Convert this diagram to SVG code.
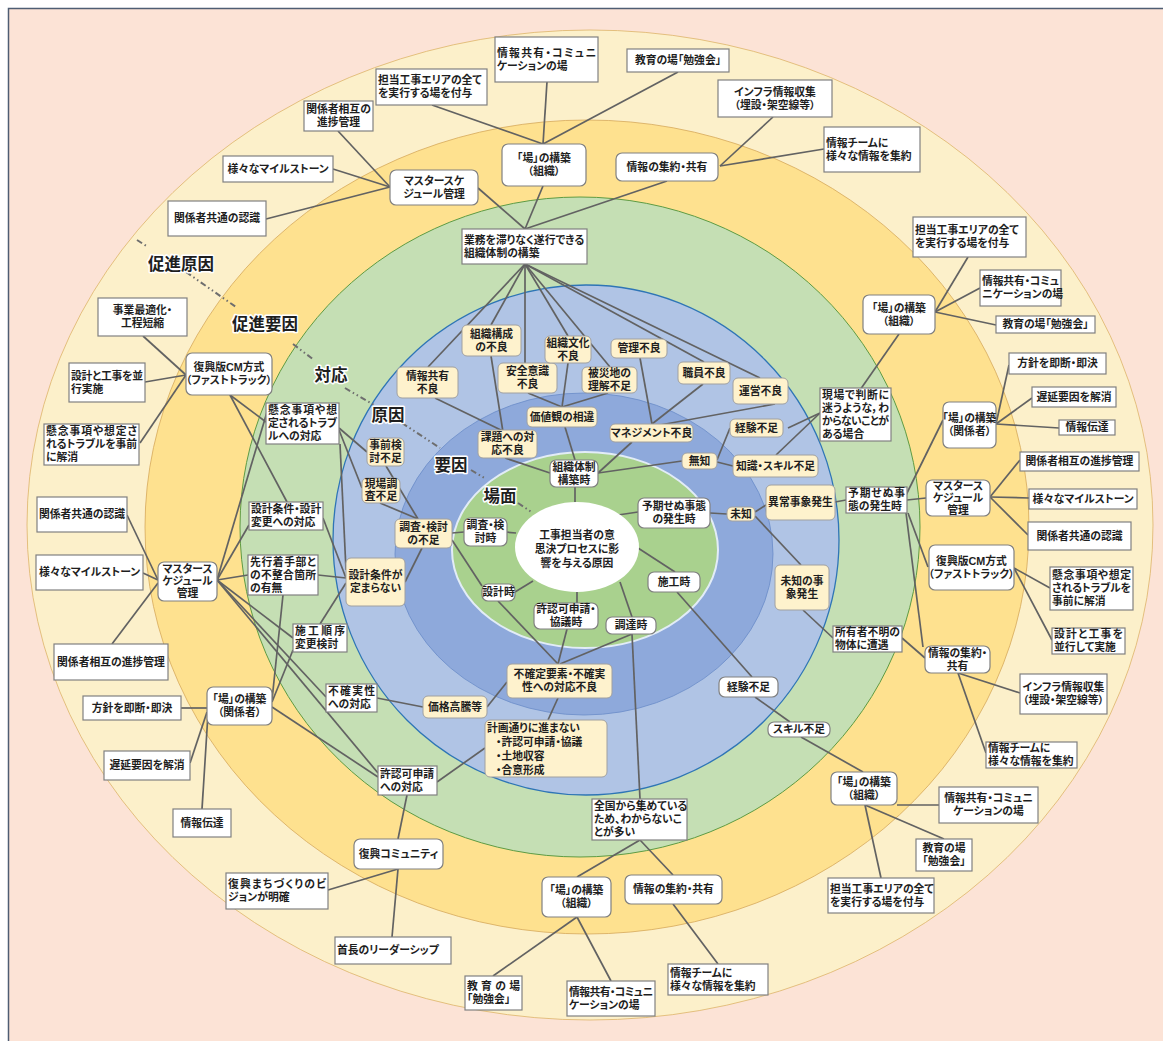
<svg xmlns="http://www.w3.org/2000/svg" width="1163" height="1041" viewBox="0 0 1163 1041">
<style>
text{font-family:"Liberation Sans","Noto Sans CJK JP",sans-serif;font-size:10.8px;font-weight:bold;fill:#1e1e1e;font-feature-settings:"palt" 1}
.m{text-anchor:middle}
.s{fill:#fff;stroke:#808080;stroke-width:1.2}
.r{fill:#fff;stroke:#808080;stroke-width:1.2;rx:6px}
.c{fill:#fef2cd;stroke:#a0a0a0;stroke-width:1;rx:5px}
#connectors line{stroke:#626262;stroke-width:1.7}
#guide line{stroke:#6e6e6e;stroke-width:2;stroke-dasharray:6 3 1.5 3 1.5 3}
.lab{font-size:16.5px;font-weight:bold;stroke:#fff;stroke-width:3px;paint-order:stroke;stroke-linejoin:round}
</style>
<rect width="1163" height="1041" fill="#fff"/>
<rect x="8.5" y="8.5" width="1160" height="1040" fill="#fce3d6" stroke="#4e5d73" stroke-width="1.5"/>
<g id="rings">
<ellipse cx="590" cy="525" rx="563" ry="495" fill="#fcf0ca" stroke="#ddb468" stroke-width="0.8"/>
<ellipse cx="587" cy="527" rx="442" ry="407" fill="#fee18f" stroke="#d6a85b" stroke-width="0.8"/>
<ellipse cx="580" cy="527" rx="340" ry="330" fill="#c5dfb4" stroke="#5e9b43" stroke-width="1"/>
<ellipse cx="586" cy="540" rx="253" ry="255" fill="#b0c4e5" stroke="#2e75b6" stroke-width="1.3"/>
<ellipse cx="584" cy="554" rx="189" ry="161" fill="#8ea9db" stroke="#6a8cc8" stroke-width="0.8"/>
<ellipse cx="585" cy="550" rx="133" ry="98" fill="#a9d18e" stroke="#e2ecf7" stroke-width="2"/>
</g>
<g id="guide">
<line x1="137" y1="240" x2="148" y2="247"/>
<line x1="186" y1="272" x2="236" y2="307"/>
<line x1="293" y1="344" x2="314" y2="360"/>
<line x1="345" y1="388" x2="374" y2="405"/>
<line x1="402" y1="423" x2="440" y2="448"/>
<line x1="471" y1="470" x2="486" y2="479"/>
<line x1="518" y1="503" x2="533" y2="513"/>
</g>
<g id="connectors">
<line x1="432" y1="105" x2="543" y2="144"/>
<line x1="547" y1="82" x2="543" y2="144"/>
<line x1="678" y1="72" x2="543" y2="144"/>
<line x1="543" y1="186" x2="525" y2="229"/>
<line x1="478" y1="188" x2="525" y2="229"/>
<line x1="667" y1="181" x2="525" y2="229"/>
<line x1="773" y1="117" x2="720" y2="166"/>
<line x1="824" y1="149" x2="720" y2="166"/>
<line x1="338" y1="131" x2="390" y2="187"/>
<line x1="333" y1="169" x2="390" y2="187"/>
<line x1="266" y1="219" x2="390" y2="187"/>
<line x1="525" y1="264" x2="428" y2="367"/>
<line x1="525" y1="264" x2="491" y2="325"/>
<line x1="525" y1="264" x2="525" y2="363"/>
<line x1="525" y1="264" x2="568" y2="336"/>
<line x1="525" y1="264" x2="610" y2="367"/>
<line x1="525" y1="264" x2="704" y2="362"/>
<line x1="525" y1="264" x2="760" y2="378"/>
<line x1="143" y1="336" x2="186" y2="375"/>
<line x1="145" y1="382" x2="186" y2="375"/>
<line x1="140" y1="443" x2="186" y2="375"/>
<line x1="230" y1="395" x2="266" y2="422"/>
<line x1="230" y1="395" x2="287" y2="502"/>
<line x1="127" y1="515" x2="158" y2="580"/>
<line x1="143" y1="573" x2="158" y2="580"/>
<line x1="112" y1="644" x2="158" y2="583"/>
<line x1="217" y1="580" x2="267" y2="412"/>
<line x1="217" y1="580" x2="249" y2="525"/>
<line x1="217" y1="580" x2="248" y2="575"/>
<line x1="217" y1="580" x2="293" y2="638"/>
<line x1="217" y1="580" x2="326" y2="697"/>
<line x1="217" y1="580" x2="378" y2="773"/>
<line x1="272" y1="707" x2="378" y2="777"/>
<line x1="283" y1="595" x2="272" y2="700"/>
<line x1="293" y1="650" x2="272" y2="702"/>
<line x1="320" y1="624" x2="346" y2="583"/>
<line x1="318" y1="575" x2="346" y2="578"/>
<line x1="323" y1="518" x2="346" y2="578"/>
<line x1="340" y1="444" x2="346" y2="570"/>
<line x1="339" y1="428" x2="367" y2="452"/>
<line x1="339" y1="430" x2="362" y2="488"/>
<line x1="386" y1="466" x2="418" y2="519"/>
<line x1="380" y1="503" x2="418" y2="519"/>
<line x1="422" y1="548" x2="405" y2="582"/>
<line x1="452" y1="533" x2="464" y2="532"/>
<line x1="452" y1="540" x2="482" y2="586"/>
<line x1="207" y1="708" x2="181" y2="708"/>
<line x1="207" y1="712" x2="190" y2="763"/>
<line x1="208" y1="714" x2="202" y2="809"/>
<line x1="437" y1="782" x2="485" y2="748"/>
<line x1="407" y1="795" x2="398" y2="839"/>
<line x1="328" y1="890" x2="398" y2="869"/>
<line x1="398" y1="869" x2="392" y2="937"/>
<line x1="377" y1="698" x2="423" y2="707"/>
<line x1="435" y1="398" x2="505" y2="432"/>
<line x1="491" y1="356" x2="503" y2="432"/>
<line x1="505" y1="458" x2="550" y2="473"/>
<line x1="528" y1="393" x2="562" y2="407"/>
<line x1="568" y1="363" x2="562" y2="407"/>
<line x1="608" y1="393" x2="562" y2="407"/>
<line x1="565" y1="427" x2="575" y2="460"/>
<line x1="640" y1="358" x2="652" y2="424"/>
<line x1="703" y1="384" x2="652" y2="424"/>
<line x1="775" y1="404" x2="660" y2="425"/>
<line x1="632" y1="442" x2="598" y2="473"/>
<line x1="682" y1="461" x2="598" y2="473"/>
<line x1="730" y1="428" x2="717" y2="460"/>
<line x1="733" y1="466" x2="717" y2="462"/>
<line x1="575" y1="487" x2="575" y2="502"/>
<line x1="505" y1="532" x2="516" y2="533"/>
<line x1="515" y1="592" x2="533" y2="581"/>
<line x1="577" y1="603" x2="577" y2="590"/>
<line x1="620" y1="582" x2="632" y2="617"/>
<line x1="632" y1="634" x2="640" y2="799"/>
<line x1="638" y1="548" x2="675" y2="572"/>
<line x1="618" y1="515" x2="638" y2="512"/>
<line x1="710" y1="513" x2="727" y2="514"/>
<line x1="755" y1="512" x2="766" y2="505"/>
<line x1="755" y1="516" x2="801" y2="565"/>
<line x1="498" y1="601" x2="558" y2="664"/>
<line x1="567" y1="629" x2="558" y2="664"/>
<line x1="632" y1="634" x2="560" y2="664"/>
<line x1="507" y1="682" x2="487" y2="707"/>
<line x1="558" y1="698" x2="548" y2="720"/>
<line x1="677" y1="592" x2="752" y2="677"/>
<line x1="755" y1="697" x2="790" y2="722"/>
<line x1="801" y1="737" x2="863" y2="772"/>
<line x1="968" y1="257" x2="935" y2="312"/>
<line x1="980" y1="288" x2="935" y2="312"/>
<line x1="996" y1="325" x2="935" y2="312"/>
<line x1="899" y1="334" x2="860" y2="390"/>
<line x1="788" y1="428" x2="820" y2="413"/>
<line x1="776" y1="455" x2="820" y2="413"/>
<line x1="996" y1="424" x2="1009" y2="365"/>
<line x1="996" y1="424" x2="1032" y2="398"/>
<line x1="996" y1="424" x2="1059" y2="428"/>
<line x1="906" y1="495" x2="943" y2="420"/>
<line x1="835" y1="502" x2="846" y2="500"/>
<line x1="907" y1="500" x2="926" y2="498"/>
<line x1="990" y1="497" x2="1020" y2="460"/>
<line x1="990" y1="497" x2="1029" y2="498"/>
<line x1="990" y1="497" x2="1028" y2="535"/>
<line x1="908" y1="513" x2="928" y2="567"/>
<line x1="906" y1="513" x2="923" y2="647"/>
<line x1="1014" y1="568" x2="1050" y2="588"/>
<line x1="1014" y1="568" x2="1052" y2="640"/>
<line x1="803" y1="610" x2="833" y2="638"/>
<line x1="902" y1="638" x2="925" y2="658"/>
<line x1="958" y1="673" x2="1020" y2="693"/>
<line x1="958" y1="673" x2="986" y2="753"/>
<line x1="865" y1="805" x2="944" y2="839"/>
<line x1="865" y1="805" x2="881" y2="878"/>
<line x1="897" y1="805" x2="939" y2="805"/>
<line x1="640" y1="840" x2="577" y2="877"/>
<line x1="640" y1="840" x2="673" y2="875"/>
<line x1="577" y1="917" x2="493" y2="976"/>
<line x1="577" y1="917" x2="611" y2="981"/>
<line x1="673" y1="904" x2="718" y2="964"/>
</g>
<g id="labels">
<text class="lab m" x="181" y="270" fill="#7c5b1f">促進原因</text>
<text class="lab m" x="265" y="330" fill="#7c5b1f">促進要因</text>
<text class="lab m" x="331" y="381" fill="#4f7a28">対応</text>
<text class="lab m" x="388" y="421" fill="#203864">原因</text>
<text class="lab m" x="451" y="471" fill="#203864">要因</text>
<text class="lab m" x="500" y="502" fill="#3e7b27">場面</text>
</g>
<g id="n1"><rect class="s" x="376" y="69" width="111" height="36"/><text><tspan x="378" y="84.3">担当工事エリアの全て</tspan><tspan x="378" y="97.3">を実行する場を付与</tspan></text></g>
<g id="n2"><rect class="s" x="495" y="37" width="103" height="45"/><text><tspan x="497" y="56.8" textLength="99" lengthAdjust="spacing">情報共有・コミュニ</tspan><tspan x="497" y="69.8">ケーションの場</tspan></text></g>
<g id="n3"><rect class="s" x="627" y="49" width="102" height="23"/><text class="m" x="678" y="64.3">教育の場「勉強会」</text></g>
<g id="n4"><rect class="s" x="718" y="80" width="114" height="37"/><text class="m"><tspan x="775" y="95.8">インフラ情報収集</tspan><tspan x="775" y="108.8">（埋設・架空線等）</tspan></text></g>
<g id="n5"><rect class="s" x="824" y="127" width="96" height="45"/><text><tspan x="826" y="146.8">情報チームに</tspan><tspan x="826" y="159.8">様々な情報を集約</tspan></text></g>
<g id="n6"><rect class="s" x="304" y="101" width="69" height="30"/><text class="m"><tspan x="338.5" y="113.3">関係者相互の</tspan><tspan x="338.5" y="126.3">進捗管理</tspan></text></g>
<g id="n7"><rect class="s" x="223" y="156" width="110" height="26"/><text class="m" x="278" y="172.8">様々なマイルストーン</text></g>
<g id="n8"><rect class="s" x="168" y="201" width="98" height="35"/><text class="m" x="217" y="222.3">関係者共通の認識</text></g>
<g id="n9"><rect class="r" x="390" y="170" width="88" height="35"/><text class="m"><tspan x="434" y="184.8">マスタースケ</tspan><tspan x="434" y="197.8">ジュール管理</tspan></text></g>
<g id="n10"><rect class="r" x="502" y="144" width="84" height="42"/><text class="m"><tspan x="544" y="162.3">「場」の構築</tspan><tspan x="544" y="175.3">（組織）</tspan></text></g>
<g id="n11"><rect class="r" x="616" y="153" width="102" height="28"/><text class="m" x="667" y="170.8">情報の集約・共有</text></g>
<g id="n12"><rect class="s" x="462" y="229" width="125" height="35"/><text><tspan x="464" y="243.8">業務を滞りなく遂行できる</tspan><tspan x="464" y="256.8">組織体制の構築</tspan></text></g>
<g id="n13"><rect class="s" x="98" y="298" width="89" height="38"/><text class="m"><tspan x="142.5" y="314.3">事業最適化・</tspan><tspan x="142.5" y="327.3">工程短縮</tspan></text></g>
<g id="n14"><rect class="s" x="69" y="363" width="76" height="39"/><text><tspan x="71" y="379.8" textLength="72" lengthAdjust="spacing">設計と工事を並</tspan><tspan x="71" y="392.8">行実施</tspan></text></g>
<g id="n15"><rect class="s" x="44" y="424" width="95" height="41"/><text><tspan x="46" y="435.3" textLength="91" lengthAdjust="spacing">懸念事項や想定さ</tspan><tspan x="46" y="448.3" textLength="91" lengthAdjust="spacing">れるトラブルを事前</tspan><tspan x="46" y="461.3">に解消</tspan></text></g>
<g id="n16"><rect class="r" x="186" y="353" width="86" height="42"/><text class="m"><tspan x="229" y="371.3">復興版CM方式</tspan><tspan x="229" y="384.3">（ファストトラック）</tspan></text></g>
<g id="n17"><rect class="s" x="266" y="403" width="73" height="41"/><text><tspan x="268" y="414.3" textLength="69" lengthAdjust="spacing">懸念事項や想</tspan><tspan x="268" y="427.3" textLength="69" lengthAdjust="spacing">定されるトラブ</tspan><tspan x="268" y="440.3">ルへの対応</tspan></text></g>
<g id="n18"><rect class="c" x="367" y="438" width="37" height="28"/><text class="m"><tspan x="385.5" y="449.3">事前検</tspan><tspan x="385.5" y="462.3">討不足</tspan></text></g>
<g id="n19"><rect class="c" x="362" y="478" width="38" height="25"/><text class="m"><tspan x="381" y="488.3">現場調</tspan><tspan x="381" y="500.3">査不足</tspan></text></g>
<g id="n20"><rect class="s" x="37" y="497" width="90" height="35"/><text class="m" x="82" y="518.3">関係者共通の認識</text></g>
<g id="n21"><rect class="s" x="249" y="502" width="74" height="28"/><text><tspan x="251" y="513.3">設計条件・設計</tspan><tspan x="251" y="526.3">変更への対応</tspan></text></g>
<g id="n22"><rect class="s" x="36" y="555" width="107" height="35"/><text class="m" x="89.5" y="576.3">様々なマイルストーン</text></g>
<g id="n23"><rect class="r" x="158" y="562" width="59" height="39"/><text class="m"><tspan x="187.5" y="573.3">マスタース</tspan><tspan x="187.5" y="585.3">ケジュール</tspan><tspan x="187.5" y="597.3">管理</tspan></text></g>
<g id="n24"><rect class="s" x="248" y="555" width="70" height="40"/><text><tspan x="250" y="565.8" textLength="66" lengthAdjust="spacing">先行着手部と</tspan><tspan x="250" y="578.8" textLength="66" lengthAdjust="spacing">の不整合箇所</tspan><tspan x="250" y="591.8">の有無</tspan></text></g>
<g id="n25"><rect class="c" x="346" y="558" width="59" height="48"/><text class="m"><tspan x="375.5" y="579.3">設計条件が</tspan><tspan x="375.5" y="592.3">定まらない</tspan></text></g>
<g id="n26"><rect class="s" x="293" y="624" width="54" height="28"/><text><tspan x="295" y="635.3" textLength="50" lengthAdjust="spacing">施工順序</tspan><tspan x="295" y="648.3">変更検討</tspan></text></g>
<g id="n27"><rect class="s" x="54" y="644" width="114" height="36"/><text class="m" x="111" y="665.8">関係者相互の進捗管理</text></g>
<g id="n28"><rect class="s" x="326" y="684" width="51" height="28"/><text><tspan x="328" y="695.3" textLength="47" lengthAdjust="spacing">不確実性</tspan><tspan x="328" y="708.3">への対応</tspan></text></g>
<g id="n29"><rect class="s" x="83" y="696" width="98" height="24"/><text class="m" x="132" y="711.8">方針を即断・即決</text></g>
<g id="n30"><rect class="r" x="207" y="687" width="65" height="38"/><text class="m"><tspan x="239.5" y="703.3">「場」の構築</tspan><tspan x="239.5" y="716.3">（関係者）</tspan></text></g>
<g id="n31"><rect class="s" x="104" y="751" width="86" height="29"/><text class="m" x="147" y="769.3">遅延要因を解消</text></g>
<g id="n32"><rect class="s" x="378" y="766" width="59" height="29"/><text><tspan x="380" y="777.8">許認可申請</tspan><tspan x="380" y="790.8">への対応</tspan></text></g>
<g id="n33"><rect class="s" x="173" y="809" width="58" height="28"/><text class="m" x="202" y="826.8">情報伝達</text></g>
<g id="n34"><rect class="r" x="354" y="839" width="89" height="30"/><text class="m" x="398.5" y="857.8">復興コミュニティ</text></g>
<g id="n35"><rect class="s" x="226" y="873" width="102" height="36"/><text><tspan x="228" y="888.3" textLength="98" lengthAdjust="spacing">復興まちづくりのビ</tspan><tspan x="228" y="901.3">ジョンが明確</tspan></text></g>
<g id="n36"><rect class="s" x="335" y="937" width="116" height="27"/><text x="337" y="954.3">首長のリーダーシップ</text></g>
<g id="n37"><rect class="c" x="397" y="367" width="61" height="31"/><text class="m"><tspan x="427.5" y="379.8">情報共有</tspan><tspan x="427.5" y="392.8">不良</tspan></text></g>
<g id="n38"><rect class="c" x="462" y="325" width="59" height="31"/><text class="m"><tspan x="491.5" y="337.8">組織構成</tspan><tspan x="491.5" y="350.8">の不良</tspan></text></g>
<g id="n39"><rect class="c" x="498" y="363" width="59" height="30"/><text class="m"><tspan x="527.5" y="375.3">安全意識</tspan><tspan x="527.5" y="388.3">不良</tspan></text></g>
<g id="n40"><rect class="c" x="545" y="336" width="46" height="27"/><text class="m"><tspan x="568" y="346.8">組織文化</tspan><tspan x="568" y="359.8">不良</tspan></text></g>
<g id="n41"><rect class="c" x="582" y="367" width="55" height="26"/><text class="m"><tspan x="609.5" y="377.3">被災地の</tspan><tspan x="609.5" y="390.3">理解不足</tspan></text></g>
<g id="n42"><rect class="c" x="611" y="339" width="56" height="19"/><text class="m" x="639" y="352.3">管理不良</text></g>
<g id="n43"><rect class="c" x="678" y="362" width="52" height="22"/><text class="m" x="704" y="376.8">職員不良</text></g>
<g id="n44"><rect class="c" x="733" y="378" width="55" height="26"/><text class="m" x="760.5" y="394.8">運営不良</text></g>
<g id="n45"><rect class="c" x="527" y="407" width="70" height="20"/><text class="m" x="562" y="420.8">価値観の相違</text></g>
<g id="n46"><rect class="c" x="610" y="424" width="83" height="18"/><text class="m" x="651.5" y="436.8">マネジメント不良</text></g>
<g id="n47"><rect class="c" x="478" y="430" width="59" height="28"/><text class="m"><tspan x="507.5" y="441.3">課題への対</tspan><tspan x="507.5" y="454.3">応不良</tspan></text></g>
<g id="n48"><rect class="c" x="730" y="419" width="53" height="18"/><text class="m" x="756.5" y="431.8">経験不足</text></g>
<g id="n49"><rect class="c" x="682" y="453" width="35" height="16"/><text class="m" x="699.5" y="464.8">無知</text></g>
<g id="n50"><rect class="c" x="733" y="455" width="85" height="22"/><text class="m" x="775.5" y="469.8">知識・スキル不足</text></g>
<g id="n51"><rect class="r" x="550" y="460" width="48" height="27"/><text class="m"><tspan x="574" y="470.8">組織体制</tspan><tspan x="574" y="483.8">構築時</tspan></text></g>
<g id="n52"><rect class="r" x="638" y="498" width="72" height="30"/><text class="m"><tspan x="674" y="510.3">予期せぬ事態</tspan><tspan x="674" y="523.3">の発生時</tspan></text></g>
<g id="n53"><rect class="c" x="727" y="507" width="28" height="14"/><text class="m" x="741" y="517.8">未知</text></g>
<g id="n54"><rect class="c" x="766" y="485" width="69" height="35"/><text class="m" x="800.5" y="506.3">異常事象発生</text></g>
<g id="n55"><rect class="r" x="464" y="518" width="43" height="28"/><text class="m"><tspan x="485.5" y="529.3">調査・検</tspan><tspan x="485.5" y="542.3">討時</tspan></text></g>
<g id="n56"><rect class="c" x="395" y="519" width="57" height="29"/><text class="m"><tspan x="423.5" y="530.8">調査・検討</tspan><tspan x="423.5" y="543.8">の不足</tspan></text></g>
<g id="n57"><ellipse cx="577" cy="547" rx="62" ry="45" fill="#fff"/><text class="m"><tspan x="577" y="539">工事担当者の意</tspan><tspan x="577" y="553">思決プロセスに影</tspan><tspan x="577" y="567">響を与える原因</tspan></text></g>
<g id="n58"><rect class="r" x="482" y="584" width="33" height="17"/><text class="m" x="498.5" y="596.3">設計時</text></g>
<g id="n59"><rect class="r" x="534" y="603" width="64" height="26"/><text class="m"><tspan x="566" y="613.3">許認可申請・</tspan><tspan x="566" y="626.3">協議時</tspan></text></g>
<g id="n60"><rect class="r" x="606" y="617" width="50" height="17"/><text class="m" x="631" y="629.3">調達時</text></g>
<g id="n61"><rect class="r" x="648" y="572" width="52" height="20"/><text class="m" x="674" y="585.8">施工時</text></g>
<g id="n62"><rect class="c" x="507" y="664" width="105" height="34"/><text class="m"><tspan x="559.5" y="678.3">不確定要素・不確実</tspan><tspan x="559.5" y="691.3">性への対応不良</tspan></text></g>
<g id="n63"><rect class="c" x="423" y="696" width="64" height="22"/><text class="m" x="455" y="710.8">価格高騰等</text></g>
<g id="n64"><rect class="c" x="485" y="720" width="122" height="57"/><text><tspan x="487" y="732">計画通りに進まない</tspan><tspan x="496" y="746">・許認可申請・協議</tspan><tspan x="496" y="760">・土地収容</tspan><tspan x="496" y="774">・合意形成</tspan></text></g>
<g id="n65"><rect class="r" x="719" y="677" width="59" height="20"/><text class="m" x="748.5" y="690.8">経験不足</text></g>
<g id="n66"><rect class="r" x="768" y="722" width="62" height="15"/><text class="m" x="799" y="733.3">スキル不足</text></g>
<g id="n67"><rect class="s" x="592" y="799" width="95" height="41"/><text><tspan x="594" y="810.3">全国から集めている</tspan><tspan x="594" y="823.3">ため、わからないこ</tspan><tspan x="594" y="836.3">とが多い</tspan></text></g>
<g id="n68"><rect class="s" x="913" y="217" width="113" height="40"/><text><tspan x="915" y="234.3">担当工事エリアの全て</tspan><tspan x="915" y="247.3">を実行する場を付与</tspan></text></g>
<g id="n69"><rect class="r" x="863" y="295" width="72" height="39"/><text class="m"><tspan x="899" y="311.8">「場」の構築</tspan><tspan x="899" y="324.8">（組織）</tspan></text></g>
<g id="n70"><rect class="s" x="980" y="270" width="81" height="36"/><text><tspan x="982" y="285.3" textLength="77" lengthAdjust="spacing">情報共有・コミュ</tspan><tspan x="982" y="298.3">ニケーションの場</tspan></text></g>
<g id="n71"><rect class="s" x="996" y="316" width="99" height="17"/><text class="m" x="1045.5" y="328.3">教育の場「勉強会」</text></g>
<g id="n72"><rect class="s" x="820" y="388" width="71" height="53"/><text><tspan x="822" y="398.8" textLength="67" lengthAdjust="spacing">現場で判断に</tspan><tspan x="822" y="411.8" textLength="67" lengthAdjust="spacing">迷うような，わ</tspan><tspan x="822" y="424.8" textLength="67" lengthAdjust="spacing">からないことが</tspan><tspan x="822" y="437.8">ある場合</tspan></text></g>
<g id="n73"><rect class="s" x="1009" y="353" width="97" height="21"/><text class="m" x="1057.5" y="367.3">方針を即断・即決</text></g>
<g id="n74"><rect class="s" x="1032" y="387" width="84" height="20"/><text class="m" x="1074" y="400.8">遅延要因を解消</text></g>
<g id="n75"><rect class="s" x="1059" y="420" width="56" height="15"/><text class="m" x="1087" y="431.3">情報伝達</text></g>
<g id="n76"><rect class="r" x="943" y="402" width="53" height="46"/><text class="m"><tspan x="969.5" y="422.3">「場」の構築</tspan><tspan x="969.5" y="435.3">（関係者）</tspan></text></g>
<g id="n77"><rect class="s" x="846" y="487" width="61" height="26"/><text><tspan x="848" y="497.3" textLength="57" lengthAdjust="spacing">予期せぬ事</tspan><tspan x="848" y="510.3">態の発生時</tspan></text></g>
<g id="n78"><rect class="r" x="926" y="480" width="64" height="36"/><text class="m"><tspan x="958" y="489.8">マスタース</tspan><tspan x="958" y="501.8">ケジュール</tspan><tspan x="958" y="513.8">管理</tspan></text></g>
<g id="n79"><rect class="s" x="1020" y="452" width="119" height="19"/><text class="m" x="1079.5" y="465.3">関係者相互の進捗管理</text></g>
<g id="n80"><rect class="s" x="1029" y="489" width="108" height="20"/><text class="m" x="1083" y="502.8">様々なマイルストーン</text></g>
<g id="n81"><rect class="s" x="1028" y="522" width="103" height="28"/><text class="m" x="1079.5" y="539.8">関係者共通の認識</text></g>
<g id="n82"><rect class="r" x="929" y="545" width="85" height="45"/><text class="m"><tspan x="971.5" y="564.8">復興版CM方式</tspan><tspan x="971.5" y="577.8">（ファストトラック）</tspan></text></g>
<g id="n83"><rect class="s" x="1050" y="567" width="83" height="43"/><text><tspan x="1052" y="579.3" textLength="79" lengthAdjust="spacing">懸念事項や想定</tspan><tspan x="1052" y="592.3" textLength="79" lengthAdjust="spacing">されるトラブルを</tspan><tspan x="1052" y="605.3">事前に解消</tspan></text></g>
<g id="n84"><rect class="s" x="1052" y="628" width="73" height="26"/><text><tspan x="1054" y="638.3" textLength="69" lengthAdjust="spacing">設計と工事を</tspan><tspan x="1054" y="651.3">並行して実施</tspan></text></g>
<g id="n85"><rect class="c" x="775" y="565" width="54" height="45"/><text class="m"><tspan x="802" y="584.8">未知の事</tspan><tspan x="802" y="597.8">象発生</tspan></text></g>
<g id="n86"><rect class="s" x="833" y="626" width="69" height="26"/><text><tspan x="835" y="636.3" textLength="65" lengthAdjust="spacing">所有者不明の</tspan><tspan x="835" y="649.3">物体に遭遇</tspan></text></g>
<g id="n87"><rect class="r" x="925" y="646" width="65" height="27"/><text class="m"><tspan x="957.5" y="656.8">情報の集約・</tspan><tspan x="957.5" y="669.8">共有</tspan></text></g>
<g id="n88"><rect class="s" x="1020" y="674" width="87" height="40"/><text class="m"><tspan x="1063.5" y="691.3">インフラ情報収集</tspan><tspan x="1063.5" y="704.3">（埋設・架空線等）</tspan></text></g>
<g id="n89"><rect class="s" x="986" y="742" width="91" height="26"/><text><tspan x="988" y="752.3">情報チームに</tspan><tspan x="988" y="765.3">様々な情報を集約</tspan></text></g>
<g id="n90"><rect class="r" x="831" y="772" width="66" height="33"/><text class="m"><tspan x="864" y="785.8">「場」の構築</tspan><tspan x="864" y="798.8">（組織）</tspan></text></g>
<g id="n91"><rect class="s" x="939" y="787" width="99" height="36"/><text class="m"><tspan x="988.5" y="802.3">情報共有・コミュニ</tspan><tspan x="988.5" y="815.3">ケーションの場</tspan></text></g>
<g id="n92"><rect class="s" x="916" y="839" width="56" height="32"/><text class="m"><tspan x="944" y="852.3">教育の場</tspan><tspan x="944" y="865.3">「勉強会」</tspan></text></g>
<g id="n93"><rect class="s" x="828" y="878" width="106" height="35"/><text><tspan x="830" y="892.8">担当工事エリアの全て</tspan><tspan x="830" y="905.8">を実行する場を付与</tspan></text></g>
<g id="n94"><rect class="r" x="542" y="877" width="69" height="40"/><text class="m"><tspan x="576.5" y="894.3">「場」の構築</tspan><tspan x="576.5" y="907.3">（組織）</tspan></text></g>
<g id="n95"><rect class="r" x="625" y="875" width="97" height="29"/><text class="m" x="673.5" y="893.3">情報の集約・共有</text></g>
<g id="n96"><rect class="s" x="465" y="976" width="57" height="34"/><text><tspan x="467" y="990.3" textLength="53" lengthAdjust="spacing">教育の場</tspan><tspan x="467" y="1003.3">「勉強会」</tspan></text></g>
<g id="n97"><rect class="s" x="567" y="981" width="88" height="35"/><text><tspan x="569" y="995.8" textLength="84" lengthAdjust="spacing">情報共有・コミュニ</tspan><tspan x="569" y="1008.8">ケーションの場</tspan></text></g>
<g id="n98"><rect class="s" x="668" y="964" width="100" height="31"/><text><tspan x="670" y="976.8">情報チームに</tspan><tspan x="670" y="989.8">様々な情報を集約</tspan></text></g>
</svg>
